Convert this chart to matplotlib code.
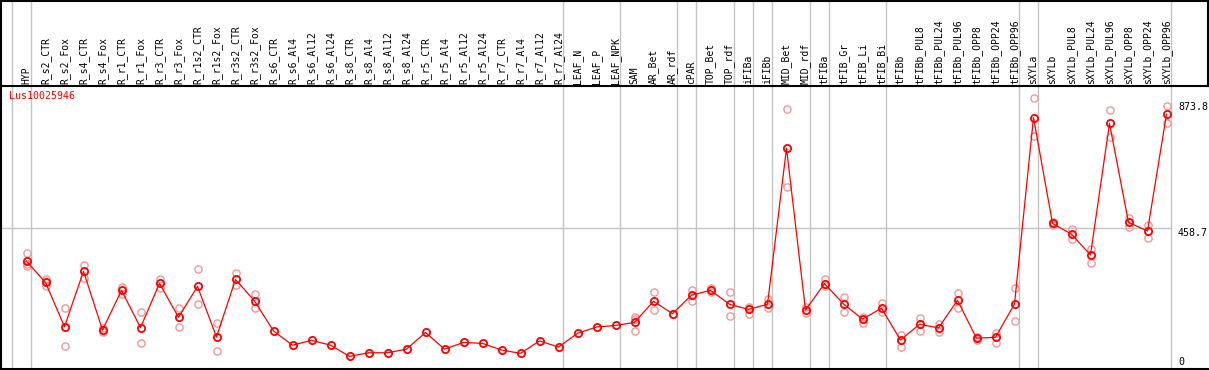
import matplotlib
matplotlib.use('Agg')
import matplotlib.pyplot as plt
import matplotlib.transforms as mtransforms
from matplotlib.lines import Line2D

# Data
gene = 'Lus10025946'
samples = ['HYP', 'R_s2_CTR', 'R_s2_Fox', 'R_s4_CTR', 'R_s4_Fox', 'R_r1_CTR', 'R_r1_Fox',
           'R_r3_CTR', 'R_r3_Fox', 'R_r1s2_CTR', 'R_r1s2_Fox', 'R_r3s2_CTR', 'R_r3s2_Fox',
           'R_s6_CTR', 'R_s6_Al4', 'R_s6_Al12', 'R_s6_Al24', 'R_s8_CTR', 'R_s8_Al4',
           'R_s8_Al12', 'R_s8_Al24', 'R_r5_CTR', 'R_r5_Al4', 'R_r5_Al12', 'R_r5_Al24',
           'R_r7_CTR', 'R_r7_Al4', 'R_r7_Al12', 'R_r7_Al24', 'LEAF_N', 'LEAF_P', 'LEAF_NPK',
           'SAM', 'AR_Bet', 'AR_rdf', 'cPAR', 'TOP_Bet', 'TOP_rdf', 'iFIBa', 'iFIBb',
           'MID_Bet', 'MID_rdf', 'tFIBa', 'tFIB_Gr', 'tFIB_Li', 'tFIB_Bi', 'tFIBb',
           'tFIBb_PUL8', 'tFIBb_PUL24', 'tFIBb_PUL96', 'tFIBb_OPP8', 'tFIBb_OPP24',
           'tFIBb_OPP96', 'sXYLa', 'sXYLb', 'sXYLb_PUL8', 'sXYLb_PUL24', 'sXYLb_PUL96',
           'sXYLb_OPP8', 'sXYLb_OPP24', 'sXYLb_OPP96']

means = [349, 279, 133, 316, 122, 253, 130, 276, 164, 266, 99, 289, 218,
         119, 72, 88, 72, 35, 47, 47, 59, 114, 59, 81, 78, 56, 45, 86, 66,
         111, 132, 137, 147, 217, 176, 237, 253, 207, 190, 207, 722, 188,
         275, 208, 158, 194, 89, 141, 129, 220, 95, 98, 208,
         823, 474, 438, 370, 804, 477, 449, 834]

reps = [[375, 340, 333], [290, 268, 280], [196, 70], [337, 293], [130, 114],
        [264, 240], [180, 78], [290, 262], [194, 133], [322, 208], [144, 52],
        [309, 271], [240, 196], [], [], [], [], [], [], [], [], [], [], [], [],
        [], [], [], [], [], [], [], [164, 158, 118], [246, 187], [176],
        [253, 217], [261, 246], [246, 167], [199, 174], [223, 194], [850, 593],
        [197, 179], [290, 267], [231, 180], [146, 165], [211, 180], [105, 66],
        [161, 118], [142, 114], [243, 194], [100, 88], [113, 80], [260, 152],
        [887, 761], [478, 470], [455, 423], [388, 344], [847, 759], [492, 463],
        [469, 427], [861, 804]]

# index of last sample in each group (-1 = left edge line)
group_ends = [-1, 0, 28, 31, 34, 35, 37, 38, 39, 41, 42, 45, 52, 53, 60]
y_ticks = [0, 458.7, 873.8]

W, H = 1209, 370
fig = plt.figure(figsize=(W / 100, H / 100), dpi=100)
ax = fig.add_axes([0, 1 / H, 1, 283 / H])

x0 = -26.5 / 19
ax.set_xlim(x0, x0 + W / 19)
ax.set_ylim(-6.6, -6.6 + 283 * 3.3)
ax.set_xticks([])
ax.set_yticks([])
for s in ['left', 'right']:
    ax.spines[s].set_visible(False)
ax.spines['top'].set_linewidth(1.5)
ax.spines['bottom'].set_linewidth(1.5)

mono = 'DejaVu Sans Mono'
grid_col = '#c4c4c4'

# group separators, through header and plot
xfig = mtransforms.blended_transform_factory(ax.transData, fig.transFigure)
for g in group_ends:
    ax.plot([g + 0.25, g + 0.25], [0, 1], color=grid_col, lw=1, transform=xfig,
            clip_on=False, zorder=0)

# middle reference line
last = len(samples) - 1 + 0.25
ax.plot([x0, last], [y_ticks[1], y_ticks[1]], color=grid_col, lw=1, zorder=0)

# replicates
for i, r in enumerate(reps):
    if r:
        ax.plot([i] * len(r), r, 'o', ms=5.2, mfc='none', mec='#f09898', mew=1, zorder=2)

xs = list(range(len(samples)))
ax.plot(xs, means, '-', color='red', lw=0.9, zorder=3)
ax.plot(xs, means, 'o', ms=5.2, mfc='none', mec='red', mew=1.3, zorder=4)

# header labels
for i, name in enumerate(samples):
    ax.text(i, (H - 84) / H, name, rotation=90, ha='center', va='bottom',
            fontsize=7, family=mono, transform=xfig)

# right-hand value labels
xax = mtransforms.blended_transform_factory(ax.transAxes, ax.transData)
ax.text(1178 / W, y_ticks[2], '873.8', ha='left', va='top', fontsize=7.2,
        family=mono, transform=xax)
ax.text(1178 / W, y_ticks[1], '458.7', ha='left', va='top', fontsize=7.2,
        family=mono, transform=xax)
ax.text(1178 / W, y_ticks[0], '0', ha='left', va='bottom', fontsize=7.2,
        family=mono, transform=xax)

ax.text(9 / W, 1 - 5 / 283, gene, color='red', ha='left', va='top', fontsize=7.2,
        family=mono, transform=ax.transAxes)

# outer frame
fig.add_artist(Line2D([0.5 / W, 0.5 / W], [0, 1], color='black', lw=1.5))
fig.add_artist(Line2D([0, 1], [1 - 0.5 / H, 1 - 0.5 / H], color='black', lw=1.5))
fig.add_artist(Line2D([1 - 1 / W, 1 - 1 / W], [(H - 86) / H, 1], color='black', lw=1.5))

fig.savefig('out.png', dpi=100)
